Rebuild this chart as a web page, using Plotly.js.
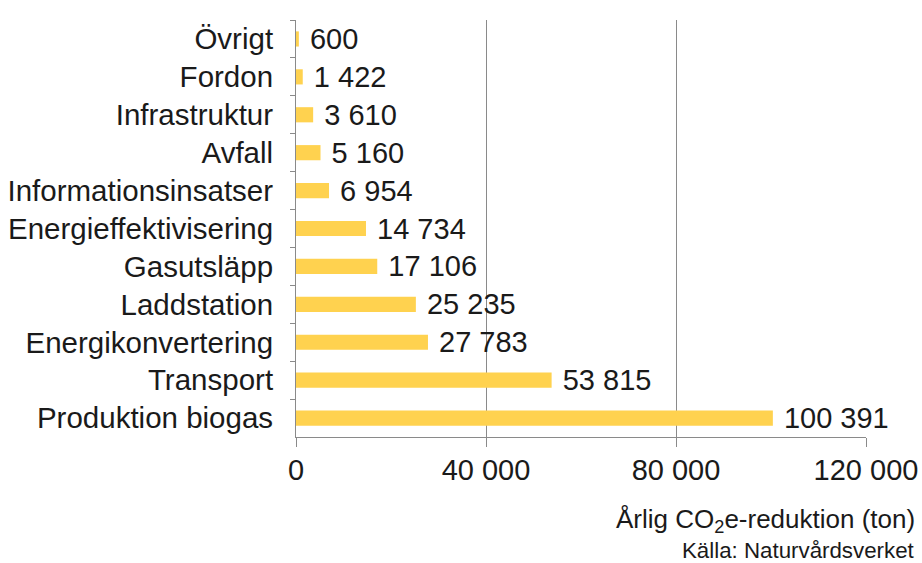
<!DOCTYPE html>
<html>
<head>
<meta charset="utf-8">
<script src="https://cdn.plot.ly/plotly-3.0.1.min.js"></script>
<style>html,body{margin:0;padding:0;background:#fff;}#chart{width:922px;height:563px;}</style>
</head>
<body>
<div id="chart"></div>
<script>
// Categories listed top to bottom as shown in the chart
const categories = ["Övrigt", "Fordon", "Infrastruktur", "Avfall", "Informationsinsatser",
  "Energieffektivisering", "Gasutsläpp", "Laddstation", "Energikonvertering", "Transport", "Produktion biogas"];
const values = [600, 1422, 3610, 5160, 6954, 14734, 17106, 25235, 27783, 53815, 100391];
const xTickVals = [0, 40000, 80000, 120000];
const xTitle = "Årlig CO<sub>2</sub>e-reduktion (ton)";
const sourceText = "Källa: Naturvårdsverket";

const FONT = "Liberation Sans, Arial, sans-serif";
const trace = {
  type: "bar",
  orientation: "h",
  x: values,
  y: categories,
  width: 0.4,
  marker: {color: "#FFD24F"},
  texttemplate: "\u00a0%{x:,d}",
  textposition: "outside",
  constraintext: "none",
  cliponaxis: false,
  textfont: {family: FONT, size: 29, color: "#1a1a1a"},
  hoverinfo: "skip"
};

const layout = {
  width: 922, height: 563,
  margin: {l: 296, r: 56, t: 20, b: 126},
  paper_bgcolor: "#fff", plot_bgcolor: "#fff",
  separators: ", ",
  font: {family: FONT, size: 29, color: "#1a1a1a"},
  showlegend: false,
  xaxis: {
    range: [0, 120000],
    tickvals: xTickVals,
    tickformat: ",d",
    showgrid: true, gridcolor: "#8a8a8a", gridwidth: 1,
    zeroline: false,
    showline: true, linecolor: "#8a8a8a", linewidth: 1,
    ticks: "outside", ticklen: 9, tickcolor: "#8a8a8a",
    ticklabelstandoff: -2,
    tickfont: {family: FONT, size: 29, color: "#1a1a1a"},
    fixedrange: true
  },
  yaxis: {
    type: "category",
    autorange: "reversed",
    showline: true, linecolor: "#8a8a8a", linewidth: 1,
    ticks: "outside", ticklen: 5, tickcolor: "#8a8a8a",
    tickson: "boundaries",
    showgrid: false,
    ticklabelstandoff: 16,
    tickfont: {family: FONT, size: 29.5, color: "#1a1a1a"},
    fixedrange: true
  },
  annotations: [
    {text: xTitle, xref: "paper", yref: "paper", x: 1.09, y: -0.2, xanchor: "right", yanchor: "middle",
     showarrow: false, font: {family: FONT, size: 26, color: "#1a1a1a"}},
    {text: sourceText, xref: "paper", yref: "paper", x: 1.09, y: -0.272, xanchor: "right", yanchor: "middle",
     showarrow: false, font: {family: FONT, size: 22.3, color: "#1a1a1a"}}
  ]
};

Plotly.newPlot("chart", [trace], layout, {displayModeBar: false, staticPlot: true});
</script>
</body>
</html>
